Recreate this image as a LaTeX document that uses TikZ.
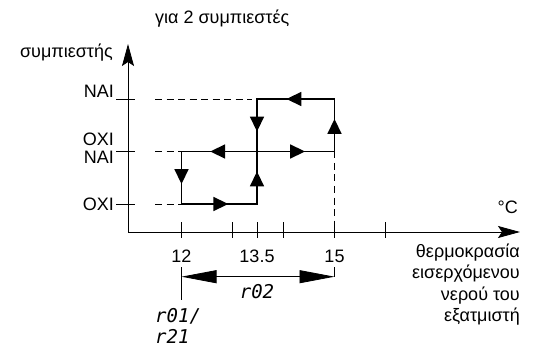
\documentclass[tikz,border=0pt]{standalone}
\usepackage{fontspec}
\setmainfont{Liberation Sans}
\newfontfamily\segfont{DejaVu Sans Mono}
\usetikzlibrary{arrows.meta,decorations.markings}
\begin{document}
\begin{tikzpicture}[x=1pt,y=-1pt,
  axis/.style={line width=0.8pt},
  tickline/.style={line width=0.8pt},
  guide/.style={line width=0.8pt,dash pattern=on 7pt off 4.5pt},
  path/.style={line width=1.8pt,line join=miter},
  flow/.style={line width=1.8pt,postaction={decorate},
    decoration={markings,mark=at position 0.62 with {\arrow{Triangle[length=15pt,width=14pt]}}}},
  lbl/.style={inner sep=0pt,font=\fontsize{18}{21}\selectfont},
  seg/.style={inner sep=0pt,font=\segfont\itshape\fontsize{19}{21}\selectfont}]
\useasboundingbox (0,0) rectangle (533,350);

% axes
\coordinate (O) at (128,232);
\coordinate (Ytop) at (128,44);
\coordinate (Xend) at (520,232);
\draw[axis,-{Stealth[length=22pt,width=12pt,inset=4pt]}] (O) -- (Ytop);
\draw[axis,-{Stealth[length=22pt,width=12pt,inset=4pt]}] (O) -- (Xend);

% y ticks
\draw[tickline] (116,99) -- (135,99);
\draw[tickline] (116,151.5) -- (135,151.5);
\draw[tickline] (116,204) -- (135,204);

% x ticks
\foreach \x in {181.5,232,257,283,334.5,385}
  \draw[tickline] (\x,222) -- (\x,238);

% guides
\draw[guide] (155,99) -- (252,99);
\draw[guide] (155,151.5) -- (181.5,151.5);
\draw[guide] (155,204) -- (181.5,204);
\draw[guide] (334.5,151.5) -- (334.5,232);

% hysteresis path
\coordinate (A) at (181.5,151.5);
\coordinate (B) at (181.5,204);
\coordinate (C) at (257,204);
\coordinate (D) at (257,151.5);
\coordinate (E) at (334.5,151.5);
\coordinate (F) at (334.5,99);
\coordinate (G) at (257,99);
\draw[path] (A) -- (B) -- (C) -- (D);
\draw[path] (A) -- (E) -- (F) -- (G) -- (D);
\draw[flow] (A) -- (B);
\draw[flow] (B) -- (C);
\draw[flow] (C) -- (D);
\draw[flow] (D) -- (A);
\draw[flow] (D) -- (E);
\draw[flow] (E) -- (F);
\draw[flow] (F) -- (G);
\draw[flow] (G) -- (D);

% dimension
\coordinate (d1top) at (181.5,267);
\coordinate (d1bot) at (181.5,300);
\coordinate (d2top) at (334.5,267);
\coordinate (d2bot) at (334.5,277);
\coordinate (d1) at (181.5,276.7);
\coordinate (d2) at (334.5,276.7);
\draw[tickline] (d1top) -- (d1bot);
\draw[tickline] (d2top) -- (d2bot);
\draw[tickline,{Triangle[length=35pt,width=13pt]}-{Triangle[length=35pt,width=13pt]}] (d1) -- (d2);

% labels
\node[lbl,anchor=base west] (title) at (155,24) {για 2 συμπιεστές};
\node[lbl,anchor=base east] (ylab) at (113,58) {συμπιεστής};
\node[lbl,anchor=base east] (nai1) at (114,98) {NAI};
\node[lbl,anchor=base east] (oxi1) at (114,146) {OXI};
\node[lbl,anchor=base east] (nai2) at (114,164) {NAI};
\node[lbl,anchor=base east] (oxi2) at (114,210) {OXI};
\node[lbl,anchor=base] (t12) at (181.5,262) {12};
\node[lbl,anchor=base] (t135) at (257,262) {13.5};
\node[lbl,anchor=base] (t15) at (334.5,262) {15};
\node[lbl,anchor=base east] (degc) at (518,213) {°C};
\node[lbl,anchor=base east] (r1) at (520,257) {θερμοκρασία};
\node[lbl,anchor=base east] (r2) at (520,278.5) {εισερχόμενου};
\node[lbl,anchor=base east] (r3) at (520,300) {νερού του};
\node[lbl,anchor=base east] (r4) at (520,321.5) {εξατμιστή};
\node[seg,anchor=base] (r02) at (257,298) {r02};
\node[seg,anchor=base west] (r01) at (155,322) {r01/};
\node[seg,anchor=base west] (r21) at (155,343) {r21};
\end{tikzpicture}
\end{document}
